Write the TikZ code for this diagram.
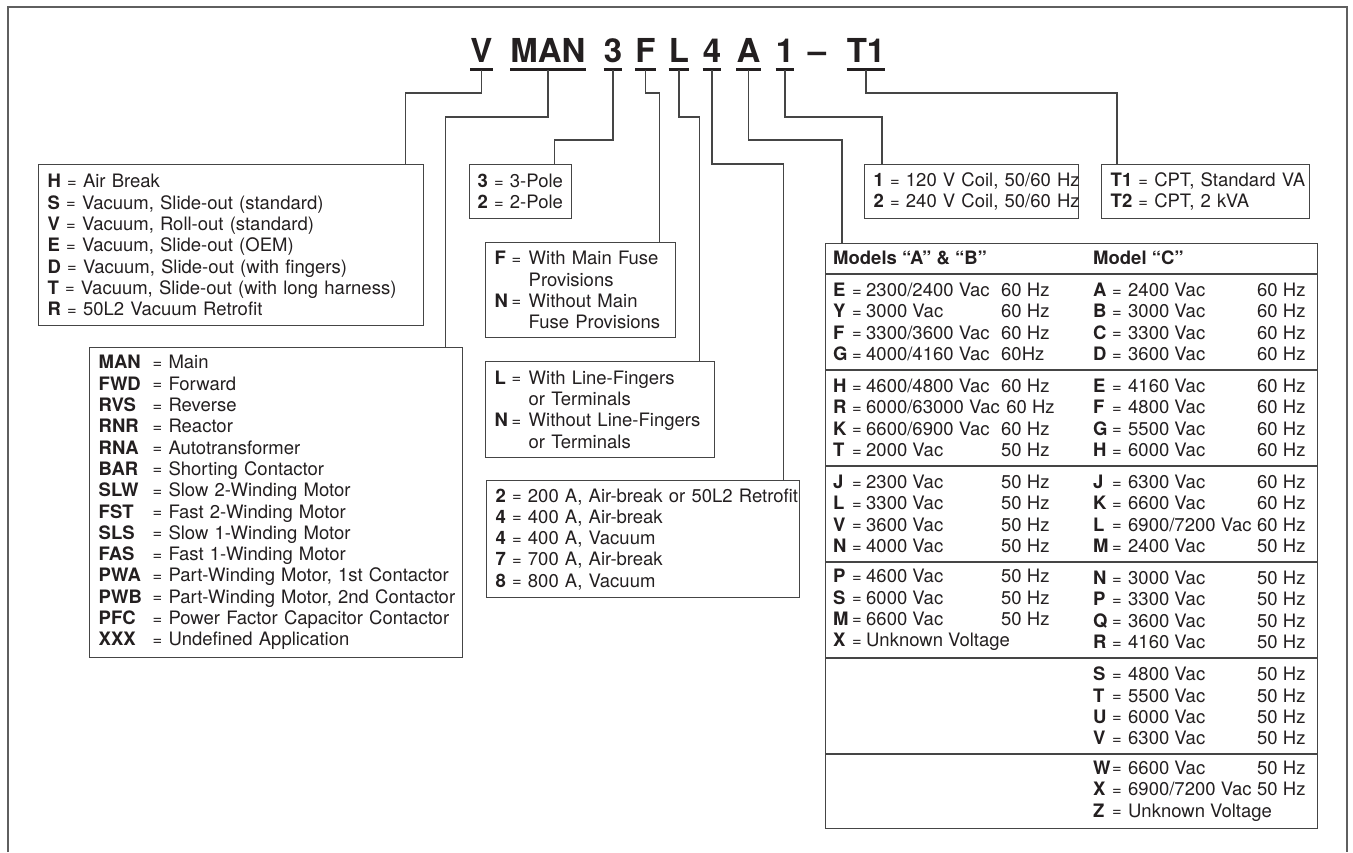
\documentclass[tikz,border=0pt]{standalone}
\usepackage{fontspec}
\setmainfont{TeX Gyre Heros}
\usepackage{xcolor}
\usetikzlibrary{positioning,calc}
\definecolor{ink}{HTML}{231F20}
\definecolor{linegray}{HTML}{454545}
\definecolor{framegray}{HTML}{5F5F5F}
\newcommand{\txt}{\fontsize{18.5}{21.3}\selectfont}
\newcommand{\eq}{\raisebox{0.5pt}{\fontsize{16.5}{16.5}\selectfont=}}
\newcommand{\kv}[2]{\mbox{\textbf{#1} \eq{} #2}}
\newcommand{\mrow}[2]{\mbox{\makebox[54pt][l]{\textbf{#1}}\eq{} #2}}
\newcommand{\pair}[2]{\mbox{\makebox[17pt][l]{\textbf{#1}}\makebox[17pt][l]{\eq}#2}}
\newcommand{\cont}[1]{\mbox{\hspace*{34pt}#1}}
\newcommand{\lrow}[3]{\makebox[19pt][l]{\textbf{#1}}\makebox[14pt][l]{\eq}\makebox[135pt][l]{#2}#3}
\newcommand{\rrow}[3]{\makebox[19pt][l]{\textbf{#1}}\makebox[16pt][l]{\eq}\makebox[129pt][l]{#2}#3}
\tikzset{box/.style={draw=linegray,line width=1.4pt,anchor=north west,align=left,
  inner xsep=9pt,inner ysep=0pt,text=ink,font=\txt},
  col/.style={anchor=west,align=left,inner sep=0pt,text=ink,font=\txt},
  code/.style={anchor=base,inner sep=0pt,text=ink,font=\fontsize{33}{33}\selectfont\bfseries},
  uline/.style={line width=3pt,draw=ink},
  link/.style={line width=1.3pt,draw=linegray}}

\begin{document}
\begin{tikzpicture}[x=1pt,y=-1pt]
\useasboundingbox (0,0) rectangle (1353,852);
\draw[draw=framegray,line width=2pt] (8,852) -- (8,7) -- (1347,7) -- (1347,852);

\node[code] (cV) at (481.5,62) {V};
\node[code] (cMAN) at (548,62) {MAN};
\node[code] (c3) at (613,62) {3};
\node[code] (cF) at (645.5,62) {F};
\node[code] (cL) at (679,62) {L};
\node[code] (c4) at (712,62) {4};
\node[code] (cA) at (748.5,62) {A};
\node[code] (c1) at (785,62) {1};
\node[code] (cD) at (817,62) {\textendash};
\node[code] (cT) at (866,62) {T1};
\foreach \c in {cV,cMAN,c3,cF,cL,c4,cA,c1,cT}
  \draw[uline] ([yshift=-7.5pt]\c.base west) -- ([yshift=-7.5pt]\c.base east);

\node[box,text width=367pt,minimum height=161pt] (hbox) at (38,164) {\kv{H}{Air Break}\\
  \kv{S}{Vacuum, Slide-out (standard)}\\ \kv{V}{Vacuum, Roll-out (standard)}\\
  \kv{E}{Vacuum, Slide-out (OEM)}\\ \kv{D}{Vacuum, Slide-out (with fingers)}\\
  \kv{T}{Vacuum, Slide-out (with long harness)}\\ \kv{R}{50L2 Vacuum Retrofit}};
\node[box,text width=355pt,minimum height=310pt] (manbox) at (89,347) {\mrow{MAN}{Main}\\
  \mrow{FWD}{Forward}\\ \mrow{RVS}{Reverse}\\ \mrow{RNR}{Reactor}\\
  \mrow{RNA}{Autotransformer}\\ \mrow{BAR}{Shorting Contactor}\\
  \mrow{SLW}{Slow 2-Winding Motor}\\ \mrow{FST}{Fast 2-Winding Motor}\\
  \mrow{SLS}{Slow 1-Winding Motor}\\ \mrow{FAS}{Fast 1-Winding Motor}\\
  \mrow{PWA}{Part-Winding Motor, 1st Contactor}\\ \mrow{PWB}{Part-Winding Motor, 2nd Contactor}\\
  \mrow{PFC}{Power Factor Capacitor Contactor}\\ \mrow{XXX}{Undefined Application}};
\node[box,inner xsep=8pt,text width=86pt,minimum height=54pt] (pbox) at (469,164) {\kv{3}{3-Pole}\\ \kv{2}{2-Pole}};
\node[box,text width=172pt,minimum height=95pt] (fbox) at (485,242) {\pair{F}{With Main Fuse}\\
  \cont{Provisions}\\ \pair{N}{Without Main}\\ \cont{Fuse Provisions}};
\node[box,text width=211pt,minimum height=96pt] (lbox) at (485,361) {\pair{L}{With Line-Fingers}\\
  \cont{or Terminals}\\ \pair{N}{Without Line-Fingers}\\ \cont{or Terminals}};
\node[box,text width=295pt,minimum height=117pt] (abox) at (486,480) {\kv{2}{200 A, Air-break or 50L2 Retrofit}\\
  \kv{4}{400 A, Air-break}\\ \kv{4}{400 A, Vacuum}\\ \kv{7}{700 A, Air-break}\\ \kv{8}{800 A, Vacuum}};
\node[box,text width=196pt,minimum height=54pt] (vbox) at (864,164) {\kv{1}{120 V Coil, 50/60 Hz}\\ \kv{2}{240 V Coil, 50/60 Hz}};
\node[box,text width=190pt,minimum height=54pt] (tbox) at (1101,164) {\kv{T1}{CPT, Standard VA}\\ \kv{T2}{CPT, 2 kVA}};

\node[draw=linegray,line width=1.4pt,anchor=north west,minimum width=492pt,minimum height=585pt,inner sep=0pt] (tbl) at (825,243) {};
\foreach \y in {274,370,466,562,658,754}
  \draw[draw=linegray,line width=1.4pt] (tbl.west |- 0,\y) -- (tbl.east |- 0,\y);
\node[col,font=\txt\bfseries] (hAB) at (833,258) {Models “A” \& “B”};
\node[col,font=\txt\bfseries] (hC) at (1093,258) {Model “C”};
\node[col] (l1) at (833,322) {\lrow{E}{2300/2400 Vac}{60 Hz}\\ \lrow{Y}{3000 Vac}{60 Hz}\\
  \lrow{F}{3300/3600 Vac}{60 Hz}\\ \lrow{G}{4000/4160 Vac}{60Hz}};
\node[col] (l2) at (833,418) {\lrow{H}{4600/4800 Vac}{60 Hz}\\ \lrow{R}{6000/63000 Vac}{\ 60 Hz}\\
  \lrow{K}{6600/6900 Vac}{60 Hz}\\ \lrow{T}{2000 Vac}{50 Hz}};
\node[col] (l3) at (833,514) {\lrow{J}{2300 Vac}{50 Hz}\\ \lrow{L}{3300 Vac}{50 Hz}\\
  \lrow{V}{3600 Vac}{50 Hz}\\ \lrow{N}{4000 Vac}{50 Hz}};
\node[col] (l4) at (833,610) {\lrow{P}{4600 Vac}{50 Hz}\\ \lrow{S}{6000 Vac}{50 Hz}\\
  \lrow{M}{6600 Vac}{50 Hz}\\ \lrow{X}{Unknown Voltage}{}};
\node[col] (r1) at (1093,322) {\rrow{A}{2400 Vac}{60 Hz}\\ \rrow{B}{3000 Vac}{60 Hz}\\
  \rrow{C}{3300 Vac}{60 Hz}\\ \rrow{D}{3600 Vac}{60 Hz}};
\node[col] (r2) at (1093,418) {\rrow{E}{4160 Vac}{60 Hz}\\ \rrow{F}{4800 Vac}{60 Hz}\\
  \rrow{G}{5500 Vac}{60 Hz}\\ \rrow{H}{6000 Vac}{60 Hz}};
\node[col] (r3) at (1093,514) {\rrow{J}{6300 Vac}{60 Hz}\\ \rrow{K}{6600 Vac}{60 Hz}\\
  \rrow{L}{6900/7200 Vac}{60 Hz}\\ \rrow{M}{2400 Vac}{50 Hz}};
\node[col] (r4) at (1093,610) {\rrow{N}{3000 Vac}{50 Hz}\\ \rrow{P}{3300 Vac}{50 Hz}\\
  \rrow{Q}{3600 Vac}{50 Hz}\\ \rrow{R}{4160 Vac}{50 Hz}};
\node[col] (r5) at (1093,706) {\rrow{S}{4800 Vac}{50 Hz}\\ \rrow{T}{5500 Vac}{50 Hz}\\
  \rrow{U}{6000 Vac}{50 Hz}\\ \rrow{V}{6300 Vac}{50 Hz}};
\node[col] (r6) at (1093,791) {\rrow{W}{6600 Vac}{50 Hz}\\ \rrow{X}{6900/7200 Vac}{50 Hz}\\
  \rrow{Z}{Unknown Voltage}{}};

\draw[link] ([yshift=-7.5pt]cV.base) -- ++(0,23.5) -| ([xshift=-19pt]hbox.north east);
\draw[link] ([yshift=-7.5pt]cMAN.base) -- ++(0,47.5) -| ([xshift=-18pt]manbox.north east);
\draw[link] ([yshift=-7.5pt]c3.base) -- ++(0,70.5) -| ([xshift=-18pt]pbox.north east);
\draw[link] ([yshift=-7.5pt]cF.base) -- ++(0,23.5) -| ([xshift=-17pt]fbox.north east);
\draw[link] ([yshift=-7.5pt]cL.base) -- ++(0,47.5) -| ([xshift=-16pt]lbox.north east);
\draw[link] ([yshift=-7.5pt]c4.base) -- ++(0,94.5) -| ([xshift=-17pt]abox.north east);
\draw[link] ([yshift=-7.5pt]cA.base) -- ++(0,70.5) -| ([xshift=17pt]tbl.north west);
\draw[link] ([yshift=-7.5pt]c1.base) -- ++(0,47.5) -| ([xshift=18pt]vbox.north west);
\draw[link] ([yshift=-7.5pt]cT.base) -- ++(0,23.5) -| ([xshift=16pt]tbox.north west);
\end{tikzpicture}
\end{document}
